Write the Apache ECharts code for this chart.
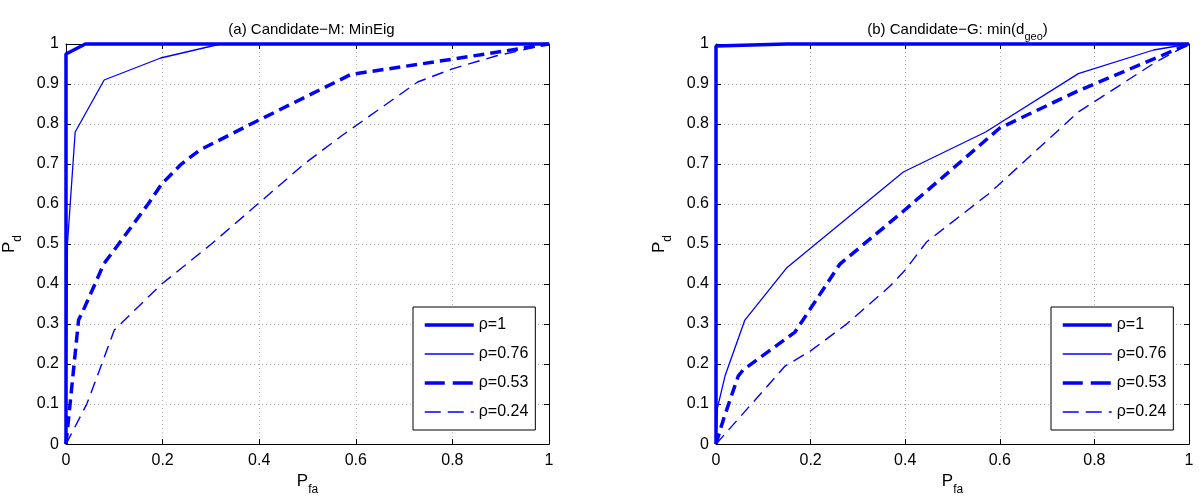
<!DOCTYPE html>
<html>
<head>
<meta charset="utf-8">
<script src="https://cdn.jsdelivr.net/npm/echarts@6/dist/echarts.min.js"></script>
<style>html,body{margin:0;padding:0;background:#fff;}#c{width:1200px;height:501px;}</style>
</head>
<body>
<div id="c"></div>
<script>
// ---- data ----
var seriesNames = ['ρ=1', 'ρ=0.76', 'ρ=0.53', 'ρ=0.24'];
var xTicks = [0, 0.2, 0.4, 0.6, 0.8, 1];
var yTicks = [0, 0.1, 0.2, 0.3, 0.4, 0.5, 0.6, 0.7, 0.8, 0.9, 1];

// (a) Candidate-M: MinEig
var leftRho1   = [[0,0],[0,0.975],[0.04,1],[1,1]];
var leftRho076 = [[0,0],[0.003,0.5],[0.019,0.78],[0.079,0.91],[0.196,0.965],[0.32,1],[1,1]];
var leftRho053 = [[0,0],[0.026,0.31],[0.036,0.335],[0.06,0.4],[0.078,0.45],[0.109,0.5],[0.17,0.6],[0.198,0.65],[0.239,0.7],[0.277,0.735],[0.383,0.8],[0.59,0.924],[0.8,0.962],[1,1]];
var leftRho024 = [[0,0],[0.043,0.1],[0.074,0.2],[0.1,0.285],[0.198,0.4],[0.301,0.5],[0.397,0.6],[0.493,0.7],[0.57,0.77],[0.728,0.905],[0.8,0.938],[0.89,0.97],[1,1]];

// (b) Candidate-G: min(d_geo)
var rightRho1   = [[0,0],[0,0.995],[0.15,1],[1,1]];
var rightRho076 = [[0,0],[0.003,0.09],[0.019,0.17],[0.061,0.31],[0.149,0.44],[0.396,0.68],[0.57,0.78],[0.766,0.926],[0.925,0.985],[1,1]];
var rightRho053 = [[0,0],[0.016,0.063],[0.047,0.17],[0.057,0.185],[0.167,0.28],[0.262,0.45],[0.396,0.582],[0.6,0.79],[0.762,0.881],[1,1]];
var rightRho024 = [[0,0],[0.146,0.195],[0.2,0.233],[0.276,0.3],[0.368,0.395],[0.4,0.435],[0.445,0.505],[0.579,0.628],[0.766,0.83],[0.93,0.955],[1,1]];

var titles = ['{n|(a) Candidate−M: MinEig}', '{n|(b) Candidate−G: min(d}{s|geo}{n|)}'];

// ---- styling ----
var FONT = 'Liberation Sans, Arial, sans-serif';
var BLUE = '#0000ff';
var styles = [
  {width: 3.5, type: 'solid', legendType: 'solid'},
  {width: 1.3, type: 'solid', legendType: 'solid'},
  {width: 3.5, type: [11, 6], legendType: [20, 8]},
  {width: 1.4, type: [12, 7], legendType: [16, 7]}
];

var grids = [
  {left: 64, top: 44, width: 485, height: 401},
  {left: 716, top: 44, width: 473, height: 401}
];
var legendLeft = [413, 1051];

function tickFmt(v) { return String(+v.toFixed(1)); }

var xAxes = [], yAxes = [], series = [], titleComps = [], legends = [];
var data = [[leftRho1, leftRho076, leftRho053, leftRho024],[rightRho1, rightRho076, rightRho053, rightRho024]];

var legendData = seriesNames.map(function (n, i) {
  return {name: n,
    itemStyle: {opacity: 0, color: 'rgba(0,0,0,0)', borderWidth: 0},
    lineStyle: {color: BLUE, width: styles[i].width, type: styles[i].legendType, opacity: 1}};
});

grids.forEach(function (g, gi) {
  var common = {
    type: 'value', min: 0, max: 1, gridIndex: gi,
    axisLine: {show: true, onZero: false, lineStyle: {color: '#000', width: 1}},
    axisTick: {show: true, inside: true, length: 5, lineStyle: {color: '#000'}}
  };
  xAxes.push(Object.assign({}, common, {
    position: 'bottom', interval: 0.2,
    axisLabel: {color: '#000', fontSize: 16, fontFamily: FONT, margin: 8, formatter: tickFmt},
    splitLine: {show: true, lineStyle: {color: '#b4b4b4', width: 1, type: [1, 3]}},
    name: '{p|P}{s|fa}', nameLocation: 'middle', nameGap: 26,
    nameTextStyle: {rich: {
      p: {fontSize: 17, fontFamily: FONT, color: '#000', padding: [0, 0, 6, 0], verticalAlign: 'bottom'},
      s: {fontSize: 12, fontFamily: FONT, color: '#000', verticalAlign: 'bottom'}
    }}
  }));
  xAxes.push(Object.assign({}, common, {
    position: 'top', interval: 0.2, axisLabel: {show: false}, splitLine: {show: false}
  }));
  yAxes.push(Object.assign({}, common, {
    position: 'left', interval: 0.1,
    axisLabel: {color: '#000', fontSize: 16, fontFamily: FONT, margin: 7, formatter: tickFmt},
    splitLine: {show: true, lineStyle: {color: '#b4b4b4', width: 1, type: [1, 3]}},
    name: '{p|P}{s|d}', nameLocation: 'middle', nameGap: 42, nameRotate: 90,
    nameTextStyle: {rich: {
      p: {fontSize: 17, fontFamily: FONT, color: '#000', padding: [0, 0, 6, 0], verticalAlign: 'bottom'},
      s: {fontSize: 12, fontFamily: FONT, color: '#000', verticalAlign: 'bottom'}
    }}
  }));
  yAxes.push(Object.assign({}, common, {
    position: 'right', interval: 0.1, axisLabel: {show: false}, splitLine: {show: false}
  }));

  titleComps.push({
    text: titles[gi],
    left: g.left + g.width / 2, top: 17, textAlign: 'center',
    textStyle: {fontWeight: 'normal', rich: {
      n: {fontSize: 15, fontWeight: 'normal', fontFamily: FONT, color: '#000', padding: [0, 0, 5, 0], verticalAlign: 'bottom'},
      s: {fontSize: 11, fontWeight: 'normal', fontFamily: FONT, color: '#000', verticalAlign: 'bottom'}
    }}
  });

  legends.push({
    orient: 'vertical',
    left: legendLeft[gi], top: 307,
    data: legendData,
    itemWidth: 49, itemHeight: 14, itemGap: 13,
    padding: [10, 7, 10, 10],
    borderColor: '#000', borderWidth: 1, backgroundColor: '#fff',
    itemStyle: {opacity: 0},
    textStyle: {fontSize: 16, fontFamily: FONT, color: '#000'},
    selectedMode: false
  });

  data[gi].forEach(function (d, si) {
    series.push({
      name: seriesNames[si], type: 'line',
      xAxisIndex: gi * 2, yAxisIndex: gi * 2,
      data: d, symbol: 'none', showSymbol: false, clip: false,
      itemStyle: {color: BLUE},
      lineStyle: {color: BLUE, width: styles[si].width, type: styles[si].type},
      z: 5 - si
    });
  });
});

var chart = echarts.init(document.getElementById('c'), null, {renderer: 'canvas'});
chart.setOption({
  backgroundColor: '#fff',
  animation: false,
  title: titleComps,
  legend: legends,
  grid: grids,
  xAxis: xAxes,
  yAxis: yAxes,
  series: series
});
</script>
</body>
</html>
